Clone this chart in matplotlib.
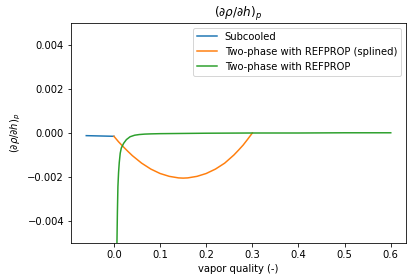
import matplotlib
matplotlib.use("Agg")
import matplotlib.pyplot as plt

# Subcooled
x_sub = [-0.06, -0.04, -0.02, 0.0]
y_sub = [-0.00012, -0.00013, -0.00014, -0.00015]

# Two-phase with REFPROP (splined)
x_spl = [0.0, 0.01, 0.02, 0.03, 0.04, 0.06, 0.08, 0.10, 0.12, 0.14, 0.15, 0.16, 0.18,
         0.20, 0.22, 0.24, 0.26, 0.27, 0.28, 0.29, 0.30]
y_spl = [-0.00015, -0.00040, -0.00062, -0.00083, -0.00103, -0.00137, -0.00164,
         -0.00184, -0.00197, -0.00204, -0.00205, -0.00204, -0.00197, -0.00184,
         -0.00164, -0.00137, -0.00100, -0.00078, -0.00055, -0.00028, 0.0]

# Two-phase with REFPROP
x_ref = [0.0055, 0.0065, 0.0075, 0.0086, 0.010, 0.0115, 0.0136, 0.016, 0.021, 0.027,
         0.035, 0.045, 0.055, 0.067, 0.08, 0.1, 0.15, 0.2, 0.3, 0.4, 0.5, 0.6]
y_ref = [-0.0065, -0.0050, -0.0036, -0.00244, -0.0018, -0.00135, -0.00092, -0.00068,
         -0.00047, -0.00030, -0.00017, -0.00010, -0.00007, -0.00005, -0.00004,
         -0.00003, -0.00002, -0.00001, 0.0, 0.0, 0.00001, 0.00001]

fig = plt.figure(figsize=(413/72, 280/72), dpi=72)
ax = fig.add_axes([0.172, 0.132, 0.811, 0.786])
ax.plot(x_sub, y_sub, label="Subcooled")
ax.plot(x_spl, y_spl, label="Two-phase with REFPROP (splined)")
ax.plot(x_ref, y_ref, label="Two-phase with REFPROP")
ax.set_ylim(-0.005, 0.005)
ax.set_title(r"$(\partial\rho/\partial h)_p$")
ax.set_ylabel(r"$(\partial\rho/\partial h)_p$")
ax.set_xlabel("vapor quality (-)")
ax.legend(loc="upper right")
fig.savefig("out.png", dpi=72)
